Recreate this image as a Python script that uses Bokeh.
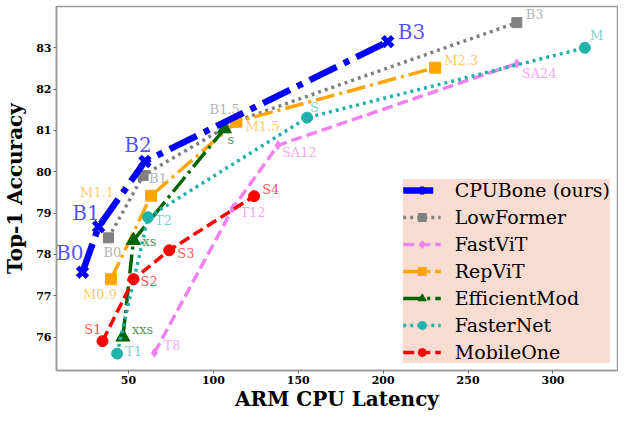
from bokeh.plotting import figure
from bokeh.models import ColumnDataSource, Legend, LegendItem, FixedTicker, Range1d
from bokeh.core.properties import value
from bokeh.embed import file_html
from bokeh.resources import INLINE

# ---------------- data ----------------
cpubone_lat = [22.9, 32.4, 59.7, 202.7]
cpubone_acc = [77.57, 78.67, 80.25, 83.15]
cpubone_lbl = ["B0", "B1", "B2", "B3"]

lowformer_lat = [38.2, 58.6, 113.2, 278.7]
lowformer_acc = [78.4, 79.91, 81.22, 83.61]
lowformer_lbl = ["B0", "B1", "B1.5", "B3"]

fastvit_lat = [65.3, 111.7, 138.0, 278.7]
fastvit_acc = [75.62, 79.13, 80.64, 82.62]
fastvit_lbl = ["T8", "T12", "SA12", "SA24"]

repvit_lat = [39.7, 63.3, 113.6, 230.6]
repvit_acc = [77.4, 79.42, 81.21, 82.52]
repvit_lbl = ["M0.9", "M1.1", "M1.5", "M2.3"]

effmod_lat = [46.7, 52.9, 106.5]
effmod_acc = [76.0, 78.34, 81.04]
effmod_lbl = ["xxs", "xs", "s"]

fasternet_lat = [43.3, 61.5, 155.2, 318.8]
fasternet_acc = [75.6, 78.9, 81.31, 83.0]
fasternet_lbl = ["T1", "T2", "S", "M"]

mobileone_lat = [34.7, 53.0, 74.0, 124.0]
mobileone_acc = [75.9, 77.4, 78.1, 79.41]
mobileone_lbl = ["S1", "S2", "S3", "S4"]

x_ticks = [50, 100, 150, 200, 250, 300]
y_ticks = [76, 77, 78, 79, 80, 81, 82, 83]
x_title = "ARM CPU Latency"
y_title = "Top-1 Accuracy"

# ---------------- label styling (pixel offsets / alignment) ----------------
lbl_style = {
    "CPUBone": ([1, 1, -7, 10], [-19, -14, -16, -10], ["right", "right", "center", "left"]),
    "LowFormer": ([-5, 6, 4, 9], [15, 3, -12, -8], ["left", "left", "right", "left"]),
    "FastViT": ([9, 7, 4, 5], [-7, 5, 7, 10], ["left"] * 4),
    "RepViT": ([-11, -37, 9, 9], [15, -3, 5, -7], ["center", "right", "left", "left"]),
    "EfficientMod": ([9, 9, 3], [-8, 1, 11], ["left"] * 3),
    "FasterNet": ([8, 7, 3, 5], [-2, 3, -10, -12], ["left"] * 4),
    "MobileOne": ([-1, 7, 8, 8], [-12, 2, 3, -7], ["right", "left", "left", "left"]),
}

SERIF = "DejaVu Serif"

p = figure(width=618, height=413, output_backend="svg", toolbar_location=None,
           x_range=Range1d(7.6, 338), y_range=Range1d(75.19, 84.0),
           min_border_left=53, min_border_right=1, min_border_top=6, min_border_bottom=36)
p.grid.visible = False
p.outline_line_color = "#999999"
p.outline_line_width = 1.5
p.background_fill_color = "white"

for ax in (p.xaxis[0], p.yaxis[0]):
    ax.axis_line_color = "#999999"
    ax.axis_line_width = 1.5
    ax.major_tick_line_color = "#666666"
    ax.major_tick_in = 0
    ax.major_tick_out = 3
    ax.minor_tick_line_color = None
    ax.major_label_text_font = SERIF
    ax.major_label_text_font_style = "bold"
    ax.major_label_text_font_size = "11px"
    ax.major_label_text_color = "black"
    ax.axis_label_text_font = SERIF
    ax.axis_label_text_font_style = "bold"
    ax.axis_label_text_font_size = "20px"
    ax.axis_label_text_color = "black"
    ax.major_label_standoff = 2
    ax.axis_label_standoff = 0

p.yaxis.axis_label_standoff = 6
p.xaxis.ticker = FixedTicker(ticks=x_ticks)
p.yaxis.ticker = FixedTicker(ticks=y_ticks)
p.xaxis.axis_label = x_title
p.yaxis.axis_label = y_title

series = [
    # name, x, y, labels, color, lw, dash, marker, msize, label_size, label_alpha
    ("LowFormer", lowformer_lat, lowformer_acc, lowformer_lbl, "gray", 3.5, "3 4", "square", 10, "13px", 0.6),
    ("FastViT", fastvit_lat, fastvit_acc, fastvit_lbl, "violet", 3.5, "11 5", "diamond", 9, "13px", 0.7),
    ("RepViT", repvit_lat, repvit_acc, repvit_lbl, "orange", 3.5, "19 5 3 5", "square", 11, "13px", 0.6),
    ("EfficientMod", effmod_lat, effmod_acc, effmod_lbl, "darkgreen", 3.5, "19 5 3 5", "triangle", 14, "13px", 0.7),
    ("FasterNet", fasternet_lat, fasternet_acc, fasternet_lbl, "lightseagreen", 3.5, "3 4", "circle", 11, "13px", 0.6),
    ("MobileOne", mobileone_lat, mobileone_acc, mobileone_lbl, "red", 3.5, "11 5", "circle", 11, "13px", 0.7),
    ("CPUBone", cpubone_lat, cpubone_acc, cpubone_lbl, "blue", 6.5, "30 8 6 8", "x", 14, "20px", 0.7),
]

items = {}
for name, xs, ys, lbls, col, lw, dash, mk, ms, ls, la in series:
    xo, yo, al = lbl_style[name]
    src = ColumnDataSource(dict(x=xs, y=ys, t=lbls, xo=xo, yo=yo, al=al))
    r_line = p.line("x", "y", source=src, line_color=col, line_width=lw, line_dash=dash)
    if mk == "x":
        r_mk = p.scatter("x", "y", source=src, marker="x", size=ms, line_color=col, line_width=5)
    else:
        r_mk = p.scatter("x", "y", source=src, marker=mk, size=ms, fill_color=col, line_color=col)
    p.text("x", "y", text="t", source=src, x_offset="xo", y_offset="yo", text_align="al",
           text_baseline="middle", text_color=col, text_alpha=la, text_font=value(SERIF),
           text_font_size=ls)
    items[name] = [r_line, r_mk]

order = ["CPUBone", "LowFormer", "FastViT", "RepViT", "EfficientMod", "FasterNet", "MobileOne"]
legend_label = {"CPUBone": "CPUBone (ours)"}
legend = Legend(items=[LegendItem(label=legend_label.get(n, n), renderers=items[n]) for n in order],
                location="bottom_right")
legend.background_fill_color = "#f8dcd2"
legend.background_fill_alpha = 1.0
legend.border_line_color = None
legend.label_text_font = SERIF
legend.label_text_font_size = "19px"
legend.label_text_color = "black"
legend.glyph_width = 38
legend.glyph_height = 20
legend.label_height = 20
legend.spacing = 5
legend.padding = 8
legend.margin = 7
legend.label_standoff = 14
p.add_layout(legend)

open("out.html", "w").write(file_html(p, INLINE))
